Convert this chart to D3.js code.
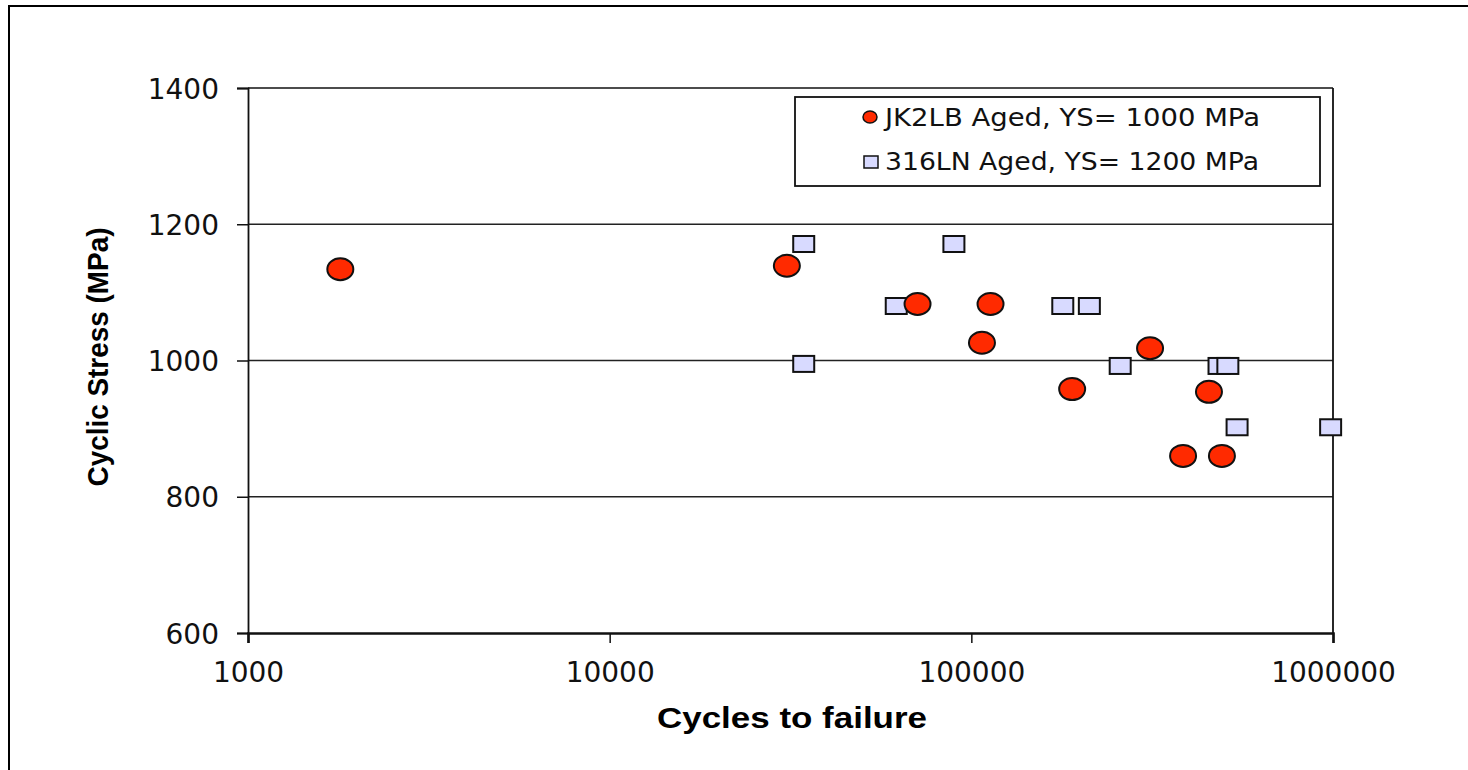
<!DOCTYPE html>
<html>
<head>
<meta charset="utf-8">
<script src="https://cdn.jsdelivr.net/npm/d3@7"></script>
<style>
  html, body { margin: 0; padding: 0; background: #fff; }
  svg { display: block; }
</style>
</head>
<body>
<svg id="chart" width="1468" height="770"></svg>
<script>
// ---- Data ----
const seriesNames = ["JK2LB Aged, YS= 1000 MPa", "316LN Aged, YS= 1200 MPa"];
const jk2lbCycles = [1800, 30900, 71000, 113000, 107000, 190000, 312000, 454000, 385000, 493000];
const jk2lbStress = [1134, 1139, 1083, 1083, 1026, 958, 1018, 954, 860, 860];
const ln316Cycles = [34400, 34400, 89500, 62000, 179000, 212000, 258000, 484000, 512000, 543000, 985000];
const ln316Stress = [1171, 995, 1171, 1080, 1080, 1080, 992, 992, 992, 902, 902];
const xTickValues = [1000, 10000, 100000, 1000000];
const yTickValues = [600, 800, 1000, 1200, 1400];
const xTitle = "Cycles to failure";
const yTitle = "Cyclic Stress (MPa)";

const svg = d3.select("#chart");
const plot = { left: 248, right: 1333, top: 88, bottom: 633 };

const x = d3.scaleLog().domain([1000, 1000000]).range([plot.left, plot.right]);
const y = d3.scaleLinear().domain([600, 1400]).range([plot.bottom, plot.top]);

// outer chart border
svg.append("rect").attr("x", 9).attr("y", 6).attr("width", 1480).attr("height", 800)
  .attr("fill", "none").attr("stroke", "#000").attr("stroke-width", 2);

// gridlines
svg.append("g").selectAll("line").data(yTickValues.filter(v => v > 600 && v < 1400)).join("line")
  .attr("x1", plot.left).attr("x2", plot.right)
  .attr("y1", d => y(d)).attr("y2", d => y(d))
  .attr("stroke", "#222").attr("stroke-width", 1.3);

// plot frame: top and right
svg.append("line").attr("x1", plot.left).attr("x2", plot.right).attr("y1", plot.top).attr("y2", plot.top)
  .attr("stroke", "#111").attr("stroke-width", 1.6);
svg.append("line").attr("x1", plot.right).attr("x2", plot.right).attr("y1", plot.top).attr("y2", plot.bottom)
  .attr("stroke", "#111").attr("stroke-width", 1.8);

// Y axis
const yAxis = d3.axisLeft(y).tickValues(yTickValues).tickSize(11).tickPadding(18).tickFormat(d3.format("d"));
const gy = svg.append("g").attr("transform", `translate(${plot.left},0)`).call(yAxis);
gy.select(".domain").attr("stroke", "#111").attr("stroke-width", 1.8);
gy.selectAll(".tick line").attr("stroke", "#111").attr("stroke-width", 1.5);
gy.selectAll(".tick text").attr("font-family", "DejaVu Sans, Verdana, sans-serif")
  .attr("font-size", 28).attr("fill", "#111").attr("dy", "0.36em");

// X axis
const xAxis = d3.axisBottom(x).tickValues(xTickValues).tickSize(10).tickPadding(19).tickFormat(d3.format("d"));
const gx = svg.append("g").attr("transform", `translate(0,${plot.bottom})`).call(xAxis);
gx.select(".domain").attr("stroke", "#111").attr("stroke-width", 2.6);
gx.selectAll(".tick line").attr("stroke", "#111").attr("stroke-width", 1.5);
gx.selectAll(".tick text").attr("font-family", "DejaVu Sans, Verdana, sans-serif")
  .attr("font-size", 28).attr("fill", "#111");

// axis titles
svg.append("text").attr("x", (657 + 927) / 2).attr("y", 728).attr("text-anchor", "middle")
  .attr("font-family", "Liberation Sans, Arial, sans-serif").attr("font-weight", "bold")
  .attr("font-size", 29).attr("textLength", 270).attr("lengthAdjust", "spacingAndGlyphs")
  .attr("fill", "#000").text(xTitle);
svg.append("text").attr("transform", "translate(108,357) rotate(-90)").attr("text-anchor", "middle")
  .attr("font-family", "Liberation Sans, Arial, sans-serif").attr("font-weight", "bold")
  .attr("font-size", 29).attr("textLength", 259).attr("lengthAdjust", "spacingAndGlyphs")
  .attr("fill", "#000").text(yTitle);

const red = "#ff2a00", lav = "#d8daff";

// 316LN squares
const ln = ln316Cycles.map((c, i) => ({ c, s: ln316Stress[i] }));
svg.append("g").selectAll("rect").data(ln).join("rect")
  .attr("x", d => x(d.c) - 10.5).attr("y", d => y(d.s) - 8).attr("width", 21).attr("height", 16)
  .attr("fill", lav).attr("stroke", "#111").attr("stroke-width", 2);

// JK2LB circles
const jk = jk2lbCycles.map((c, i) => ({ c, s: jk2lbStress[i] }));
svg.append("g").selectAll("ellipse").data(jk).join("ellipse")
  .attr("cx", d => x(d.c)).attr("cy", d => y(d.s)).attr("rx", 13).attr("ry", 11)
  .attr("fill", red).attr("stroke", "#111").attr("stroke-width", 2);

// legend
const lg = svg.append("g");
lg.append("rect").attr("x", 795).attr("y", 97).attr("width", 525).attr("height", 89)
  .attr("fill", "#fff").attr("stroke", "#111").attr("stroke-width", 1.8);
lg.append("ellipse").attr("cx", 870).attr("cy", 117).attr("rx", 7).attr("ry", 6)
  .attr("fill", red).attr("stroke", "#111").attr("stroke-width", 1.5);
lg.append("rect").attr("x", 864).attr("y", 156).attr("width", 14).attr("height", 12)
  .attr("fill", lav).attr("stroke", "#111").attr("stroke-width", 1.5);
lg.selectAll("text").data(seriesNames).join("text")
  .attr("x", 885).attr("y", (d, i) => 126 + i * 44)
  .attr("font-family", "DejaVu Sans, Verdana, sans-serif").attr("font-size", 25)
  .attr("textLength", (d, i) => i === 0 ? 375 : 374).attr("lengthAdjust", "spacingAndGlyphs")
  .attr("fill", "#111").text(d => d);
</script>
</body>
</html>
